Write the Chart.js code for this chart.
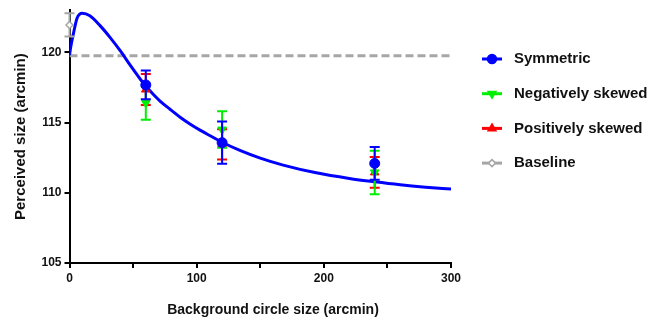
<!DOCTYPE html>
<html><head><meta charset="utf-8">
<script src="https://cdn.jsdelivr.net/npm/chart.js@4"></script>
<style>html,body{margin:0;padding:0;background:#fff}#wrap{width:653px;height:321px}</style>
</head><body><div id="wrap"><canvas id="c" width="653" height="321"></canvas></div>
<script>
// ---- data ----
const conditionX = [60, 120, 240];
const symmetricY = [117.68, 113.57, 112.09];
const symmetricErr = [1.02, 1.5, 1.17];
const negSkewY = [116.4, 114.5, 111.45];
const negSkewErr = [1.2, 1.3, 1.55];
const posSkewY = [117.35, 113.45, 111.45];
const posSkewErr = [1.1, 1.08, 1.1];
const baselineX = [0];
const baselineY = [121.95];
const baselineErr = [0.83];
const baselineLevel = 119.75;
const curveX = [0, 1, 3, 6, 10, 16, 24, 32, 40, 48, 56, 60, 66, 71, 79, 87, 95, 103, 111, 120, 134, 150, 168, 194, 220, 240, 260, 280, 300];
const curveY = [119.8, 120.4, 121.3, 122.45, 122.78, 122.6, 121.9, 121.05, 120.1, 119.05, 118.05, 117.6, 117.0, 116.55, 115.95, 115.38, 114.88, 114.44, 114.04, 113.6, 113.02, 112.47, 111.97, 111.42, 111.02, 110.78, 110.57, 110.4, 110.26];
const xTickValues = [0, 100, 200, 300];
const yTickValues = [105, 110, 115, 120];
const seriesNames = ['Symmetric', 'Negatively skewed', 'Positively skewed', 'Baseline'];
const xTitle = 'Background circle size (arcmin)';
const yTitle = 'Perceived size (arcmin)';

const BLUE = '#0000ff', GREEN = '#00ee00', RED = '#ff0000', GRAY = '#a6a6a6';
const FONT = '"Liberation Sans", Arial, sans-serif';

function pts(xs, ys) { return xs.map((x, i) => ({x: x, y: ys[i]})); }

const errorBarPlugin = {
  id: 'errorBars',
  beforeDatasetDraw(chart, args) {
    const ds = chart.data.datasets[args.index];
    if (!ds.errorBars) return;
    const ctx = chart.ctx, xs = chart.scales.x, ys = chart.scales.y;
    ctx.save();
    ctx.strokeStyle = ds.borderColor;
    ctx.lineWidth = 2;
    ds.data.forEach((p, i) => {
      const e = ds.errorBars[i];
      const px = xs.getPixelForValue(p.x);
      const top = ys.getPixelForValue(p.y + e), bot = ys.getPixelForValue(p.y - e);
      ctx.beginPath();
      ctx.moveTo(px, top); ctx.lineTo(px, bot);
      ctx.moveTo(px - 5, top); ctx.lineTo(px + 5, top);
      ctx.moveTo(px - 5, bot); ctx.lineTo(px + 5, bot);
      ctx.stroke();
    });
    ctx.restore();
  }
};

const legendPlugin = {
  id: 'customLegend',
  afterDraw(chart) {
    const ctx = chart.ctx;
    // x-axis title
    ctx.save();
    ctx.fillStyle = '#111';
    ctx.font = 'bold 14px ' + FONT;
    ctx.textAlign = 'center';
    ctx.textBaseline = 'middle';
    ctx.fillText(xTitle, 273, 310);
    ctx.restore();
    const items = [
      {name: seriesNames[0], color: BLUE, style: 'circle', fill: BLUE},
      {name: seriesNames[1], color: GREEN, style: 'triangle', rot: 180, fill: GREEN},
      {name: seriesNames[2], color: RED, style: 'triangle', rot: 0, fill: RED},
      {name: seriesNames[3], color: GRAY, style: 'rectRot', fill: '#fff'}
    ];
    const x0 = 482, x1 = 502, tx = 514;
    items.forEach((it, i) => {
      const y = 59 + i * 34.7;
      ctx.save();
      ctx.strokeStyle = it.color; ctx.lineWidth = 3;
      ctx.beginPath(); ctx.moveTo(x0, y); ctx.lineTo(x1, y); ctx.stroke();
      ctx.fillStyle = it.fill; ctx.lineWidth = 1.5;
      Chart.helpers.drawPoint(ctx, {pointStyle: it.style, radius: it.style === 'rectRot' ? 3.5 : 4.5, rotation: it.rot || 0, borderWidth: 1.5}, (x0 + x1) / 2, y);
      ctx.fillStyle = '#111';
      ctx.font = 'bold 15px ' + FONT;
      ctx.textBaseline = 'middle';
      ctx.fillText(it.name, tx, y);
      ctx.restore();
    });
  }
};

new Chart(document.getElementById('c'), {
  type: 'scatter',
  data: {
    datasets: [
      {label: 'curve', type: 'line', data: pts(curveX, curveY), borderColor: BLUE, borderWidth: 3,
       pointRadius: 0, cubicInterpolationMode: 'monotone', fill: false, order: 4},
      {label: 'baselineLine', type: 'line', data: [{x: 0, y: baselineLevel}, {x: 300, y: baselineLevel}],
       borderColor: GRAY, borderWidth: 3, borderDash: [8, 4], pointRadius: 0, fill: false, order: 5},
      {label: seriesNames[3], data: pts(baselineX, baselineY), errorBars: baselineErr, borderColor: GRAY,
       backgroundColor: '#fff', pointStyle: 'rectRot', pointRadius: 3.5, borderWidth: 1.5, clip: false, order: 3},
      {label: seriesNames[2], data: pts(conditionX, posSkewY), errorBars: posSkewErr, borderColor: RED,
       backgroundColor: RED, pointStyle: 'triangle', pointRadius: 5, borderWidth: 1, order: 3},
      {label: seriesNames[1], data: pts(conditionX, negSkewY), errorBars: negSkewErr, borderColor: GREEN,
       backgroundColor: GREEN, pointStyle: 'triangle', rotation: 180, pointRadius: 5, borderWidth: 1, order: 2},
      {label: seriesNames[0], data: pts(conditionX, symmetricY), errorBars: symmetricErr, borderColor: BLUE,
       backgroundColor: BLUE, pointStyle: 'circle', pointRadius: 5, borderWidth: 1, order: 1}
    ]
  },
  options: {
    responsive: false, animation: false, devicePixelRatio: 1,
    layout: {padding: {left: 0, right: 202, top: 8, bottom: 0}},
    plugins: {legend: {display: false}, tooltip: {enabled: false}},
    scales: {
      x: {
        type: 'linear', min: 0, max: 300,
        afterFit(s) { s.height = 58; },
        afterBuildTicks(s) { s.ticks = [0, 50, 100, 150, 200, 250, 300].map(v => ({value: v})); },
        ticks: {
          color: '#111', font: {family: FONT, size: 12, weight: 'bold'}, padding: 3, maxRotation: 0,
          callback: v => xTickValues.includes(v) ? String(v) : ''
        },
        grid: {drawOnChartArea: false, drawTicks: true, tickLength: 5, color: '#000', lineWidth: 2},
        border: {display: true, color: '#000', width: 2},
        title: {display: false}
      },
      y: {
        type: 'linear', min: 105, max: 123,
        afterFit(s) { s.width = 69.5; },
        afterBuildTicks(s) { s.ticks = yTickValues.map(v => ({value: v})); },
        ticks: {color: '#111', font: {family: FONT, size: 12, weight: 'bold'}, padding: 3},
        grid: {drawOnChartArea: false, drawTicks: true, tickLength: 5, color: '#000', lineWidth: 2},
        border: {display: true, color: '#000', width: 2},
        title: {display: true, text: yTitle, color: '#111',
                font: {family: FONT, size: 15, weight: 'bold'}, padding: {top: 12, bottom: 4}}
      }
    }
  },
  plugins: [errorBarPlugin, legendPlugin]
});
</script>
</body></html>
